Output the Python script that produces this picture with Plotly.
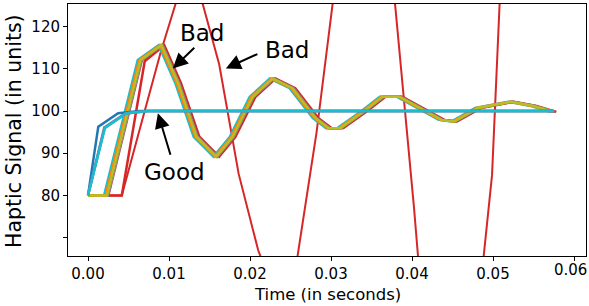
import plotly.graph_objects as go

# ---------------- data ----------------
# Oscillating ("bad") group: common knot times (s) and values (units)
osc_t = [0.0, 0.00229, 0.00644, 0.00902, 0.01108, 0.01334, 0.01579, 0.01779,
         0.02025, 0.02274, 0.02519, 0.02806, 0.02969, 0.03113, 0.03399,
         0.03632, 0.03840, 0.04360, 0.04515, 0.04810, 0.05218, 0.05497,
         0.05669, 0.05742]
osc_v = [80.0, 80.0, 112.1, 115.6, 106.6, 93.9, 89.2, 93.8,
         103.3, 107.7, 105.4, 98.3, 95.9, 96.0, 99.9,
         103.4, 103.4, 97.9, 97.5, 100.7, 102.2, 101.2,
         100.2, 99.8]
# per-series small time lag of each oscillating line (s)
osc_names = ["red", "brown", "pink", "green", "cyan", "orange", "olive"]
osc_colors = ["#d62728", "#8c564b", "#e377c2", "#2ca02c", "#17becf", "#ff7f0e", "#bcbd22"]
osc_lag = [0.00040, 0.00022, 0.00015, 0.00008, -0.00030, -0.00012, 0.00005]

# the red oscillating line starts later
red_start_t = [0.0, 0.00417, 0.00700]
red_start_v = [80.0, 80.0, 111.8]

# Diverging ("bad") red line
div_t = [0.0, 0.00417, 0.00657, 0.00898, 0.01139, 0.01379, 0.01620, 0.01860,
         0.02101, 0.02341, 0.02582, 0.02822, 0.03063, 0.03304, 0.03544,
         0.03785, 0.04025, 0.04266, 0.04506, 0.04747, 0.04988, 0.05228,
         0.05469, 0.05709]
div_v = [80.0, 80.0, 97.0, 114.0, 129.0, 128.0, 111.0, 85.1,
         67.0, 55.0, 65.0, 95.0, 132.0, 155.0, 158.0,
         126.5, 77.0, 21.0, 12.0, 40.0, 84.8, 189.0,
         220.0, 200.0]

# Converging ("good") lines
good_names = ["blue", "purple", "gray", "cyan"]
good_colors = ["#1f77b4", "#9467bd", "#7f7f7f", "#17becf"]
good_t = [
    [0.0, 0.00127, 0.00372, 0.00638, 0.05750],
    [0.0, 0.00200, 0.00460, 0.00730, 0.05750],
    [0.0, 0.00205, 0.00470, 0.00735, 0.05750],
    [0.0, 0.00209, 0.00475, 0.00740, 0.05750],
]
good_v = [
    [80.0, 96.3, 99.45, 100.0, 100.0],
    [80.0, 96.1, 99.40, 100.0, 100.0],
    [80.0, 96.0, 99.40, 100.0, 100.0],
    [80.0, 96.0, 99.45, 100.0, 100.0],
]

x_ticks = [0.00, 0.01, 0.02, 0.03, 0.04, 0.05, 0.06]
x_ticklabels = ["0.00", "0.01", "0.02", "0.03", "0.04", "0.05", "0.06"]
y_ticks = [70, 80, 90, 100, 110, 120]
y_ticklabels = ["", "80", "90", "100", "110", "120"]

# ---------------- figure ----------------
fig = go.Figure()

fig.add_trace(go.Scatter(x=div_t, y=div_v, mode="lines",
                         line=dict(color="#d62728", width=2), name="diverging"))

for name, col, lag in zip(osc_names, osc_colors, osc_lag):
    if name == "red":
        xs = red_start_t + [t + lag for t in osc_t[3:]]
        ys = red_start_v + osc_v[3:]
    else:
        xs = [osc_t[0]] + [t + lag for t in osc_t[1:]]
        ys = list(osc_v)
    fig.add_trace(go.Scatter(x=xs, y=ys, mode="lines",
                             line=dict(color=col, width=2.5), name=name))

for name, col, ts, vs in zip(good_names, good_colors, good_t, good_v):
    fig.add_trace(go.Scatter(x=ts, y=vs, mode="lines",
                             line=dict(color=col, width=2.5), name="good " + name))

font_family = "DejaVu Sans"

arrow_common = dict(showarrow=True, arrowhead=2, arrowsize=1.5, arrowwidth=2,
                    arrowcolor="black", text="", xref="x", yref="y")
fig.add_annotation(x=0.01047, y=110.1, ax=23, ay=-22, **arrow_common)
fig.add_annotation(x=0.01702, y=110.1, ax=33, ay=-15, **arrow_common)
fig.add_annotation(x=0.00863, y=99.45, ax=13, ay=43, **arrow_common)

text_common = dict(showarrow=False, xref="x", yref="y",
                   font=dict(family=font_family, size=23, color="black"))
fig.add_annotation(x=0.01411, y=118.5, text="Bad", **text_common)
fig.add_annotation(x=0.02454, y=114.5, text="Bad", **text_common)
fig.add_annotation(x=0.01067, y=85.5, text="Good", **text_common)

# axis titles as paper-positioned annotations (plot area: x 68..586, y 4..256 px)
fig.add_annotation(x=(327 - 68) / 518, y=(256 - 294) / 252, xref="paper", yref="paper",
                   text="Time (in seconds)", showarrow=False,
                   xanchor="center", yanchor="middle",
                   font=dict(family=font_family, size=16.5, color="black"))
fig.add_annotation(x=(14 - 68) / 518, y=(256 - 131) / 252, xref="paper", yref="paper",
                   text="Haptic Signal (in units)", showarrow=False, textangle=-90,
                   xanchor="center", yanchor="middle",
                   font=dict(family=font_family, size=20.5, color="black"))

# last x tick label sits against the right edge of the picture: keep it inside
fig.add_annotation(x=(588 - 68) / 518, y=(256 - 270) / 252, xref="paper", yref="paper",
                   text=x_ticklabels[-1], showarrow=False,
                   xanchor="right", yanchor="middle", borderpad=0,
                   font=dict(family=font_family, size=15, color="black"))
axis_ticktext = x_ticklabels[:-1] + [""]

fig.update_layout(
    width=589, height=306,
    margin=dict(l=68, r=3, t=4, b=50, autoexpand=False),
    plot_bgcolor="white", paper_bgcolor="white",
    showlegend=False,
    font=dict(family=font_family, color="black"),
)
fig.update_xaxes(
    range=[-0.00247, 0.06148], tickvals=x_ticks, ticktext=axis_ticktext,
    showgrid=False, zeroline=False, showline=True, linecolor="black", linewidth=1,
    mirror=True, ticks="outside", ticklen=4, tickcolor="black",
    tickfont=dict(size=15), automargin=False,
)
fig.update_yaxes(
    range=[65.64, 125.36], tickvals=y_ticks, ticktext=y_ticklabels,
    showgrid=False, zeroline=False, showline=True, linecolor="black", linewidth=1,
    mirror=True, ticks="outside", ticklen=4, tickcolor="black",
    tickfont=dict(size=15), automargin=False,
)

fig.write_html("out.html", config={"displayModeBar": False},
               post_script="document.body.style.margin='0';document.body.style.overflow='hidden';")
